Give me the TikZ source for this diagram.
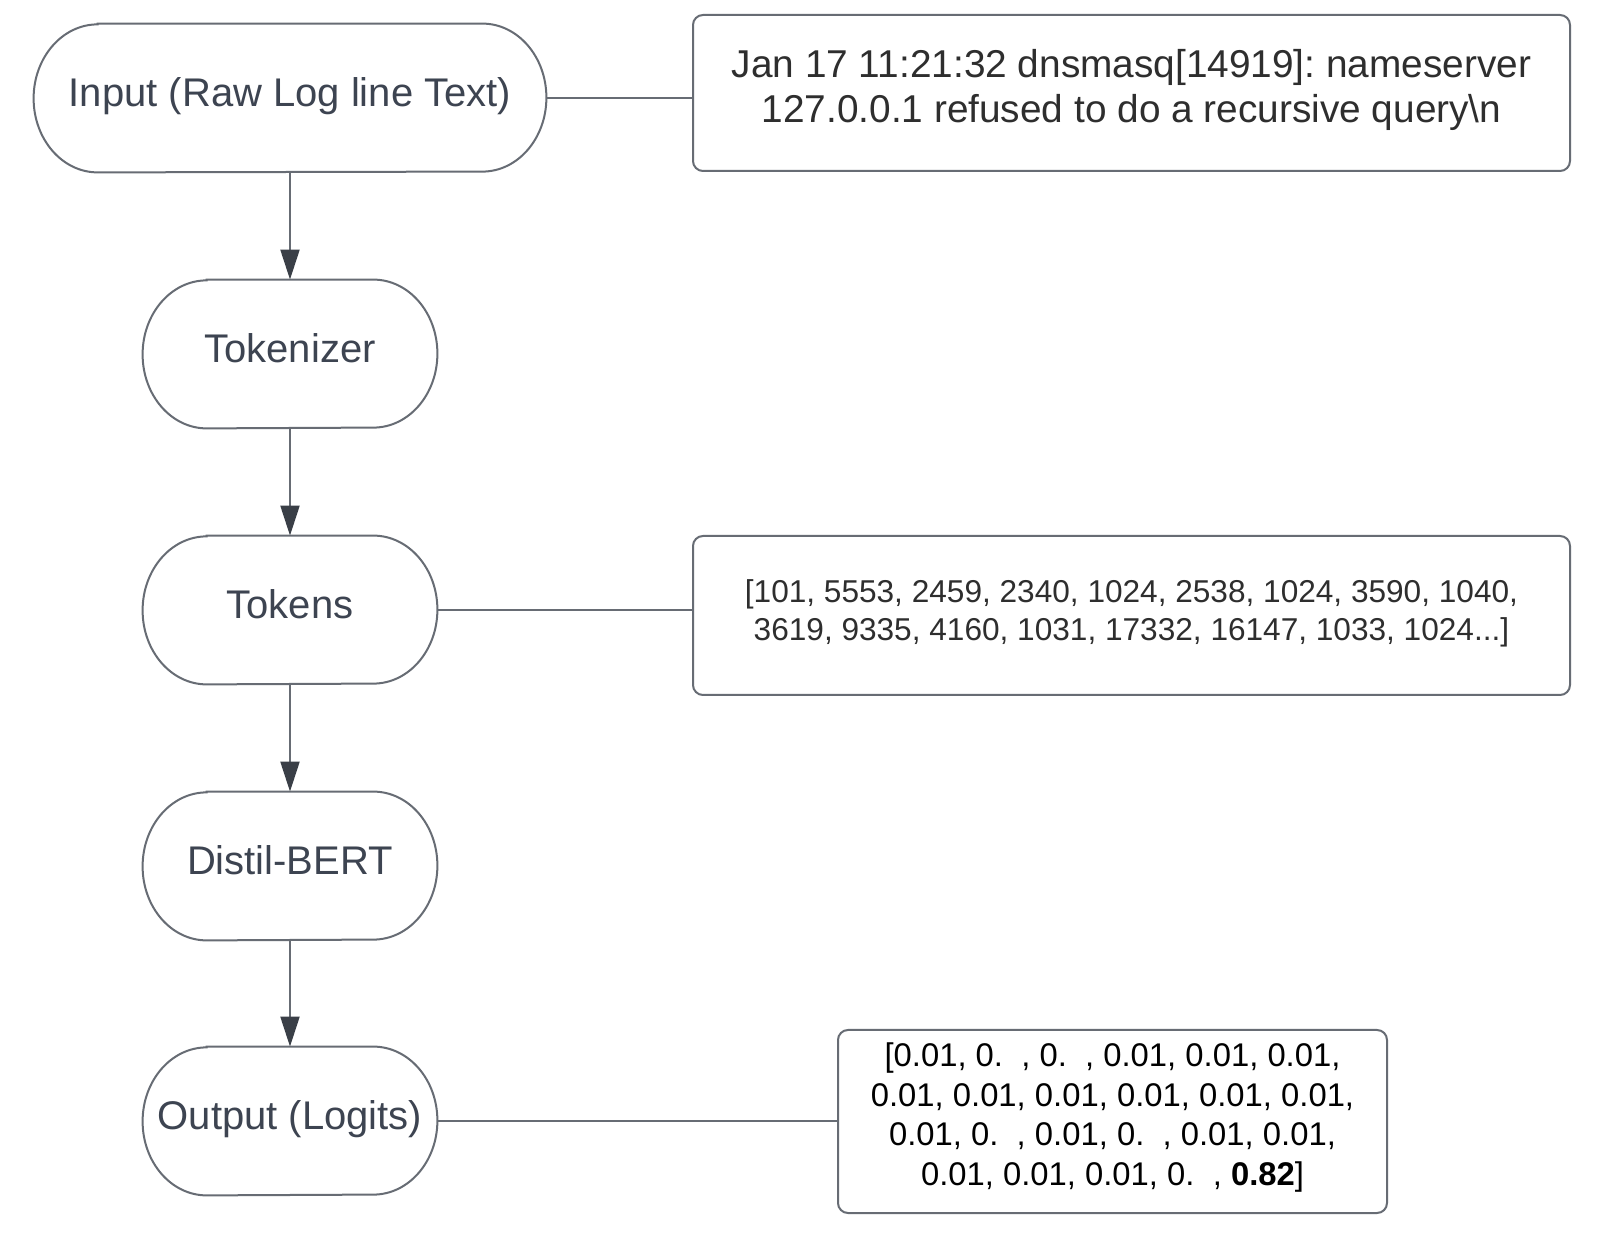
\documentclass[tikz,border=0pt]{standalone}
\usepackage{fontspec}
\setmainfont{Liberation Sans}
\usetikzlibrary{arrows.meta}
\definecolor{linec}{HTML}{676C74}
\definecolor{arrowc}{HTML}{3A3F47}
\definecolor{stadtxt}{HTML}{3D4451}
\definecolor{boxtxt}{HTML}{2E2E2E}
\newcommand\zgap{\hspace*{0.556em}}
\newcommand\drawstadium[1]{%
  \draw[stadline] ([xshift=32pt]#1.north west) -- ([xshift=-32pt]#1.north east)
    arc[start angle=90, end angle=-90, x radius=32pt, y radius=37pt]
    -- ([xshift=32pt]#1.south west)
    arc[start angle=270, end angle=90, x radius=32pt, y radius=37pt] -- cycle;}
\tikzset{
  stadline/.style={draw=linec, line width=1pt},
  stadnode/.style={inner sep=0pt, minimum height=74pt, minimum width=147pt,
    text=stadtxt, font=\fontsize{20}{24}\selectfont, text height=14.3pt, text depth=6pt},
  infobox/.style={draw=linec, line width=1pt, rounded corners=5pt, inner sep=0pt},
  boxtext/.style={inner sep=0pt, align=center},
  conn/.style={draw=linec, line width=1pt},
  arr/.style={draw=linec, line width=1pt, -{Triangle[length=15pt,width=9.5pt,color=arrowc]}}
}
\begin{document}
\frenchspacing
\begin{tikzpicture}[x=0.5pt,y=-0.5pt]
\useasboundingbox[fill=white] (0,0) rectangle (1624,1234);

\node[stadnode, minimum width=256pt] (in) at (290,98) {Input (Raw Log line Text)};
\node[stadnode] (tok) at (290,354) {Tokenizer};
\node[stadnode] (toks) at (290,610) {Tokens};
\node[stadnode] (bert) at (290,866) {Distil-BERT};
\node[stadnode] (out) at (290,1121) {Output (Logits)};
\drawstadium{in}
\drawstadium{tok}
\drawstadium{toks}
\drawstadium{bert}
\drawstadium{out}

\node[infobox, minimum width=438.5pt, minimum height=78pt] (b1) at (1131.5,93) {};
\node[boxtext, text=boxtxt, font=\fontsize{19.4}{22.3}\selectfont] (b1t) at ([yshift=1.5pt]b1.center)
  {Jan 17 11:21:32 dnsmasq[14919]: nameserver\\127.0.0.1 refused to do a recursive query\textbackslash n};
\node[infobox, minimum width=438.5pt, minimum height=79.5pt] (b2) at (1131.5,615.5) {};
\node[boxtext, text=boxtxt, font=\fontsize{15.8}{19}\selectfont] (b2t) at ([yshift=1pt]b2.center)
  {[101, 5553, 2459, 2340, 1024, 2538, 1024, 3590, 1040,\\3619, 9335, 4160, 1031, 17332, 16147, 1033, 1024...]};
\node[infobox, minimum width=274.5pt, minimum height=91.5pt] (b3) at (1112.5,1121.5) {};
\node[boxtext, text=black, font=\fontsize{16.4}{19.7}\selectfont] (b3t) at ([yshift=2pt]b3.center)
  {[0.01, 0.\zgap, 0.\zgap, 0.01, 0.01, 0.01,\\
   0.01, 0.01, 0.01, 0.01, 0.01, 0.01,\\
   0.01, 0.\zgap, 0.01, 0.\zgap, 0.01, 0.01,\\
   0.01, 0.01, 0.01, 0.\zgap, \textbf{0.82}]};

\draw[conn] (in.east) -- (in.east -| b1.west);
\draw[conn] (toks.east) -- (toks.east -| b2.west);
\draw[conn] (out.east) -- (out.east -| b3.west);

\draw[arr] (in.south) -- (tok.north);
\draw[arr] (tok.south) -- (toks.north);
\draw[arr] (toks.south) -- (bert.north);
\draw[arr] (bert.south) -- (out.north);
\end{tikzpicture}
\end{document}
